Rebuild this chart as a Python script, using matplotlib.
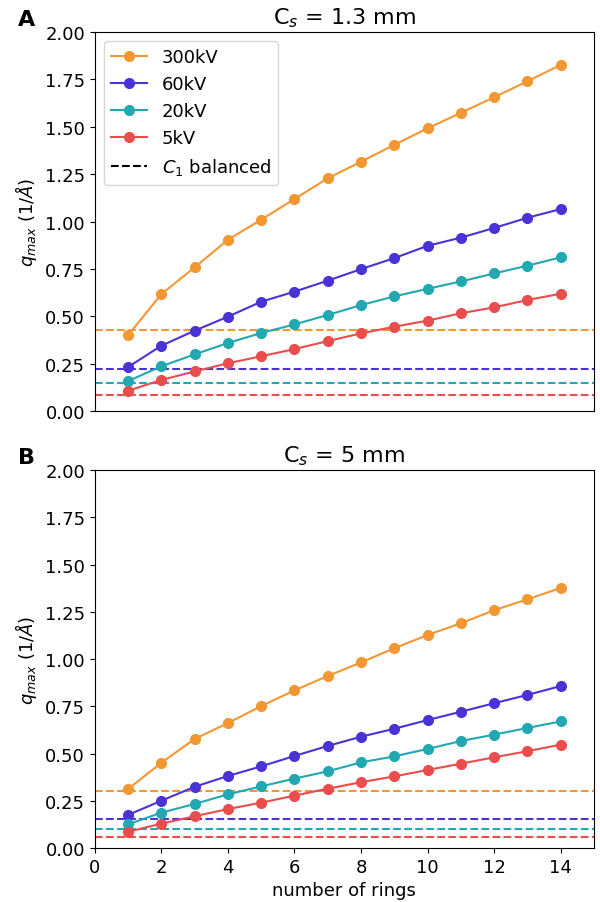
import matplotlib
matplotlib.use("Agg")
import matplotlib.pyplot as plt
from matplotlib.lines import Line2D

rings = list(range(1, 15))
voltages = ["300kV", "60kV", "20kV", "5kV"]
colors = ["#f29731", "#4a33d6", "#21a8b1", "#eb4c4c"]

# panel A: Cs = 1.3 mm
qmax_a = {
    "300kV": [0.40, 0.617, 0.758, 0.904, 1.01, 1.119, 1.228, 1.316, 1.405, 1.492, 1.574, 1.656, 1.740, 1.827],
    "60kV": [0.232, 0.345, 0.424, 0.498, 0.577, 0.630, 0.688, 0.749, 0.807, 0.872, 0.915, 0.966, 1.020, 1.066],
    "20kV": [0.158, 0.236, 0.299, 0.359, 0.412, 0.457, 0.507, 0.559, 0.605, 0.645, 0.684, 0.726, 0.767, 0.811],
    "5kV": [0.107, 0.164, 0.209, 0.252, 0.289, 0.327, 0.369, 0.410, 0.445, 0.477, 0.516, 0.547, 0.586, 0.619],
}
balanced_a = [0.430, 0.222, 0.146, 0.086]

# panel B: Cs = 5 mm
qmax_b = {
    "300kV": [0.312, 0.451, 0.577, 0.661, 0.751, 0.834, 0.910, 0.982, 1.057, 1.127, 1.189, 1.258, 1.316, 1.376],
    "60kV": [0.175, 0.250, 0.324, 0.381, 0.432, 0.487, 0.540, 0.589, 0.631, 0.677, 0.721, 0.766, 0.810, 0.857],
    "20kV": [0.125, 0.187, 0.233, 0.284, 0.326, 0.367, 0.406, 0.453, 0.485, 0.524, 0.566, 0.600, 0.635, 0.670],
    "5kV": [0.086, 0.129, 0.168, 0.206, 0.240, 0.277, 0.314, 0.348, 0.379, 0.413, 0.446, 0.480, 0.512, 0.547],
}
balanced_b = [0.303, 0.153, 0.100, 0.058]

panels = [
    ("A", "C$_s$ = 1.3 mm", qmax_a, balanced_a),
    ("B", "C$_s$ = 5 mm", qmax_b, balanced_b),
]

plt.rcParams["font.size"] = 13

fig = plt.figure(figsize=(6.0, 9.03), dpi=100)
ax_a = fig.add_axes([0.158, 0.5437, 0.832, 0.4197])
ax_b = fig.add_axes([0.158, 0.0598, 0.832, 0.4186], sharex=ax_a)
axes = [ax_a, ax_b]

for ax, (letter, title, qmax, balanced) in zip(axes, panels):
    for v, c, b in zip(voltages, colors, balanced):
        ax.plot(rings, qmax[v], "-o", color=c, lw=1.5, ms=7, label=v)
        ax.axhline(b, color=c, ls="--", lw=1.5)
    ax.set_xlim(0, 15)
    ax.set_ylim(0, 2.0)
    ax.set_yticks([0, 0.25, 0.5, 0.75, 1.0, 1.25, 1.5, 1.75, 2.0])
    ax.set_xticks(range(0, 15, 2))
    ax.tick_params(labelsize=13)
    ax.set_ylabel("$q_{max}$ (1/$\\AA$)", fontsize=13)
    ax.set_title(title, fontsize=16)
    pos = ax.get_position()
    fig.text(0.03, pos.y1 + 0.014, letter, fontsize=16, fontweight="bold", va="center")

# top panel: no x ticks at all
ax_a.tick_params(axis="x", bottom=False, labelbottom=False)
ax_b.set_xlabel("number of rings", fontsize=13)

handles, labels = ax_a.get_legend_handles_labels()
handles.append(Line2D([], [], color="black", ls="--", lw=1.5))
labels.append("$C_1$ balanced")
ax_a.legend(handles, labels, loc="upper left", fontsize=13)

fig.savefig("out.png", dpi=100)
